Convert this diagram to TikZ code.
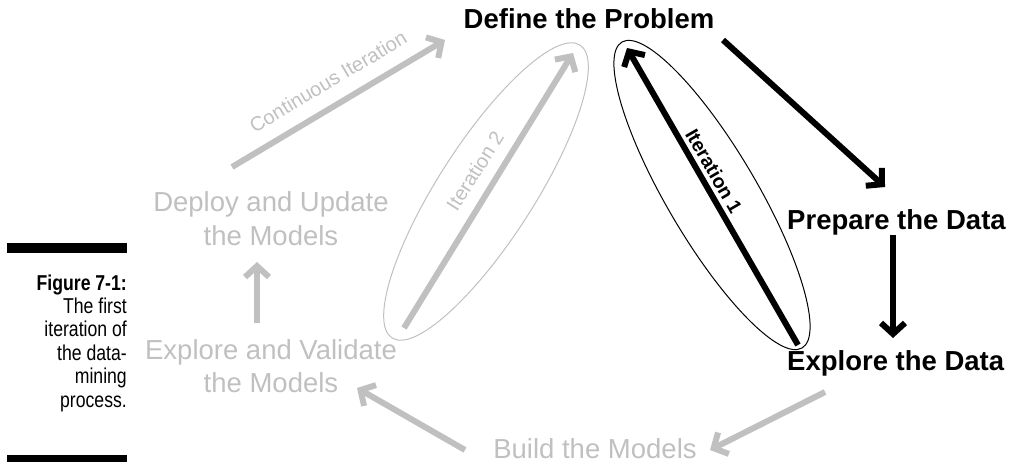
\documentclass[tikz,border=0pt]{standalone}
\usepackage{fontspec}
\setmainfont{Liberation Sans}
\newfontfamily\narrowfont[FakeStretch=0.82]{Liberation Sans}
\usetikzlibrary{arrows.meta}
\definecolor{lg}{RGB}{192,192,192}
\begin{document}
\begin{tikzpicture}[x=1pt,y=-1pt,
  big/.style={font=\fontsize{27.5}{33}\selectfont, inner sep=0pt, anchor=base},
  bigb/.style={big, font=\fontsize{27.5}{33}\selectfont\bfseries},
  faded/.style={text=lg},
  small/.style={font=\fontsize{20}{24}\selectfont, inner sep=0pt},
  garrow/.style={draw=lg, line width=6pt, -{Straight Barb[length=11pt,width=24pt]}},
  barrow/.style={draw=black, line width=6pt, -{Straight Barb[length=11pt,width=24pt]}},
  capt/.style={font=\narrowfont\fontsize{21.5}{23.4}\selectfont, inner sep=0pt, align=right, anchor=base east},
  loop/.style={line width=1pt}
]
\useasboundingbox (0,0) rectangle (1011,462);

% caption bars and text
\fill (7,243) rectangle (127,253);
\fill (7,455) rectangle (127,462);
\node[capt] (cap) at (127,407) {\bfseries Figure 7-1:\\ The first\\ iteration of\\ the data-\\ mining\\ process.};

% step texts
\node[bigb] (def) at (589,29) {Define the Problem};
\node[bigb, anchor=base west] (prep) at (787,230) {Prepare the Data};
\node[bigb, anchor=base west] (expl) at (787,370) {Explore the Data};
\node[big, faded] (build) at (595,458) {Build the Models};
\node[big, faded, align=center] (ev) at (271,392) {Explore and Validate\\the Models};
\node[big, faded, align=center] (dep) at (271,245) {Deploy and Update\\the Models};

% free ends of connectors
\coordinate (ci1) at (232,167); \coordinate (ci2) at (445,40);
\coordinate (i2a) at (404,328); \coordinate (i2b) at (573,53);
\coordinate (i1a) at (798,345); \coordinate (i1b) at (627,48);
\coordinate (dp1) at (723,40);  \coordinate (dp2) at (885,187);
\coordinate (pe1) at (893,235); \coordinate (pe2) at (893,338);
\coordinate (eb1) at (825,392); \coordinate (eb2) at (710,450);
\coordinate (be1) at (465,450); \coordinate (be2) at (357,388);
\coordinate (ed1) at (257,323); \coordinate (ed2) at (257,262);

% loops
\draw[lg, loop, rotate around={57.3:(486,191.5)}] (486,191.5) ellipse [x radius=174, y radius=48];
\draw[black, loop, rotate around={-59.5:(712,195)}] (712,195) ellipse [x radius=177.5, y radius=45];

% connectors
\draw[garrow] (ci1) -- (ci2);
\draw[garrow] (i2a) -- (i2b);
\draw[barrow] (i1a) -- (i1b);
\draw[barrow] (dp1) -- (dp2);
\draw[barrow] (pe1) -- (pe2);
\draw[garrow] (eb1) -- (eb2);
\draw[garrow] (be1) -- (be2);
\draw[garrow] (ed1) -- (ed2);

% connector labels
\node[small, text=lg, rotate=30.8] (lci) at (328,81.5) {Continuous Iteration};
\node[small, text=lg, rotate=57.5] (li2) at (475,171) {Iteration 2};
\node[small, font=\fontsize{19.5}{23}\selectfont\bfseries, rotate=-60] (li1) at (714,171) {Iteration 1};
\end{tikzpicture}
\end{document}
